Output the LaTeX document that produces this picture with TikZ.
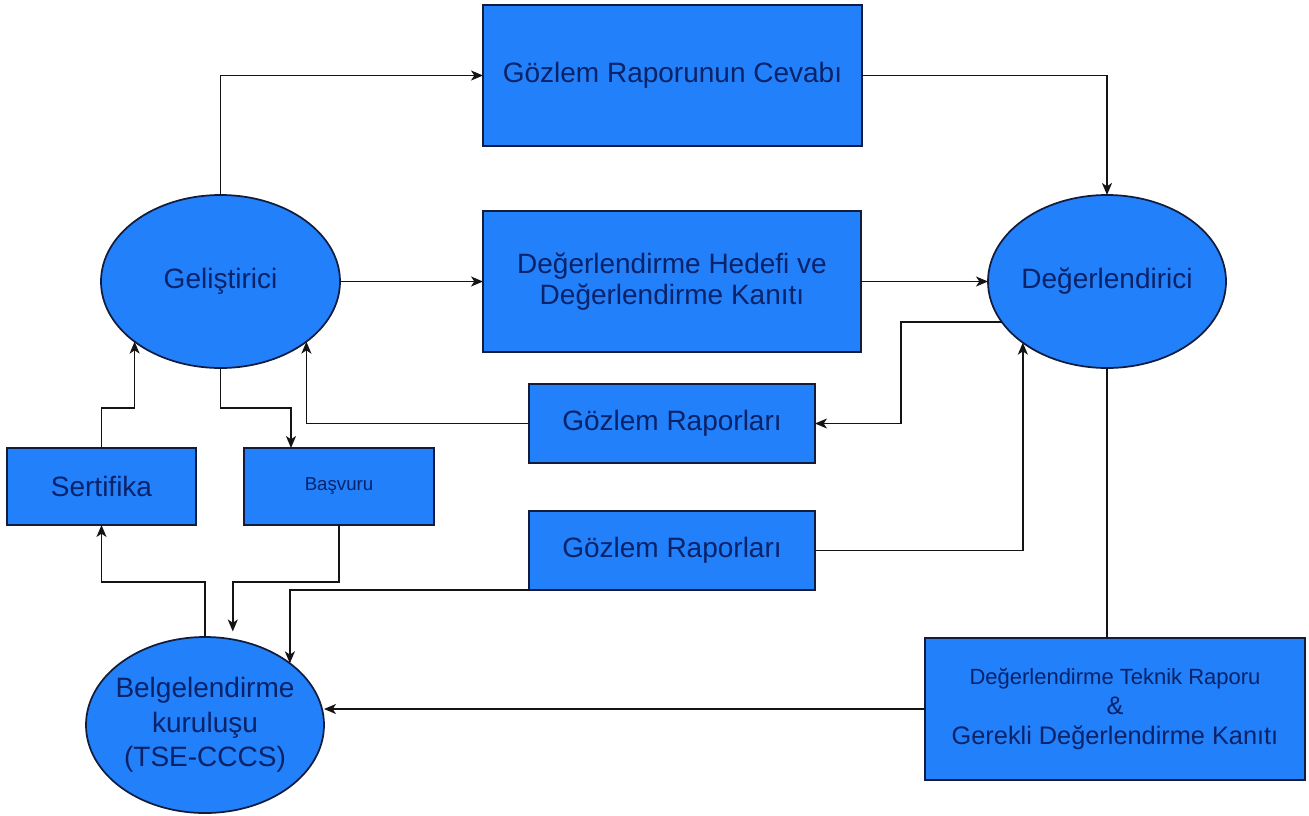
\documentclass[tikz,border=0pt]{standalone}
\usepackage{fontspec}
\setmainfont{Liberation Sans}
\usetikzlibrary{arrows.meta,shapes.geometric}
\definecolor{boxfill}{RGB}{33,128,250}
\definecolor{boxtext}{RGB}{10,34,104}
\definecolor{boxline}{RGB}{18,28,60}
\definecolor{wire}{RGB}{20,20,20}
\begin{document}
\begin{tikzpicture}[x=0.75pt,y=-0.75pt,
  box/.style={rectangle, draw=boxline, line width=1.3pt, fill=boxfill, text=boxtext,
    font=\fontsize{21}{23.25}\selectfont, align=center, inner sep=0pt, outer sep=0pt},
  oval/.style={ellipse, draw=boxline, line width=1.3pt, fill=boxfill, inner sep=0pt, outer sep=0pt},
  ovaltext/.style={text=boxtext, font=\fontsize{21}{26}\selectfont, align=center, inner sep=0pt},
  conn/.style={draw=wire, line width=1.2pt, -{Stealth[length=9pt,width=7.5pt,inset=2.5pt]}},
  plainline/.style={draw=wire, line width=1.2pt}
]
\fill[white] (0,0) rectangle (1309,815);
\useasboundingbox (0,0) rectangle (1309,815);

% boxes
\node[box, minimum width={379*0.75pt}, minimum height={141*0.75pt}] (cevap) at (672.5,75.5) {Gözlem Raporunun Cevabı};
\node[box, minimum width={378*0.75pt}, minimum height={141*0.75pt}] (hedef) at (672,281.5) {Değerlendirme Hedefi ve\\Değerlendirme Kanıtı};
\node[box, minimum width={286*0.75pt}, minimum height={79*0.75pt}] (gr1) at (672,423.5) {Gözlem Raporları};
\node[box, minimum width={286*0.75pt}, minimum height={79*0.75pt}] (gr2) at (672,550.5) {Gözlem Raporları};
\node[box, minimum width={189*0.75pt}, minimum height={77*0.75pt}] (sert) at (101.5,486.5) {Sertifika};
\node[box, minimum width={190*0.75pt}, minimum height={77*0.75pt}, font=\fontsize{14}{16}\selectfont] (basv) at (339,486.5) {Başvuru};
\node[box, minimum width={380*0.75pt}, minimum height={142*0.75pt}, font=\fontsize{19}{22.5}\selectfont] (tekn) at (1115,709)
  {{\fontsize{16.5}{22.5}\selectfont Değerlendirme Teknik Raporu}\\\&\\Gerekli Değerlendirme Kanıtı};

% ellipses
\node[oval, minimum width={239*0.75pt}, minimum height={173*0.75pt},
  label={[ovaltext]center:Geliştirici}] (gel) at (220.5,281.5) {};
\node[oval, minimum width={238*0.75pt}, minimum height={173*0.75pt},
  label={[ovaltext]center:Değerlendirici}] (deg) at (1107,281.5) {};
\node[oval, minimum width={238*0.75pt}, minimum height={176*0.75pt},
  label={[ovaltext]center:{Belgelendirme\\kuruluşu\\(TSE-CCCS)}}] (bel) at (205,725) {};

% helper coordinates
\coordinate (yTop) at (0,408);
\coordinate (yLow) at (0,582);
\coordinate (xRet) at (901,0);
\coordinate (xBas) at (291,0);

% connectors
\draw[conn] (gel.north) |- (cevap.west);
\draw[conn] (cevap.east) -| (deg.north);
\draw[conn] (gel.east) -- (hedef.west);
\draw[conn] (hedef.east) -- (deg.west);
\draw[conn] (deg.201.7) -| (xRet |- gr1.east) -- (gr1.east);
\draw[conn] (gr1.west) -| (gel.-35.9);
\draw[conn] (gr2.east) -| (deg.216.3);
\draw[conn] (sert.north) |- (gel.215.9 |- yTop) -- (gel.215.9);
\draw[conn] (gel.south) |- (xBas |- yTop) -- (xBas |- basv.north);
\draw[conn] (bel.north) |- (sert.south |- yLow) -- (sert.south);
\draw[conn, shorten >=6pt] (basv.south) |- (bel.72.5 |- yLow) -- (bel.72.5);
\draw[conn] (gr2.south west) -| (bel.36.6);
\draw[plainline] (deg.south) -- (deg.south |- tekn.north);
\draw[conn] (tekn.west) -- (tekn.west -| bel.east);
\end{tikzpicture}
\end{document}
